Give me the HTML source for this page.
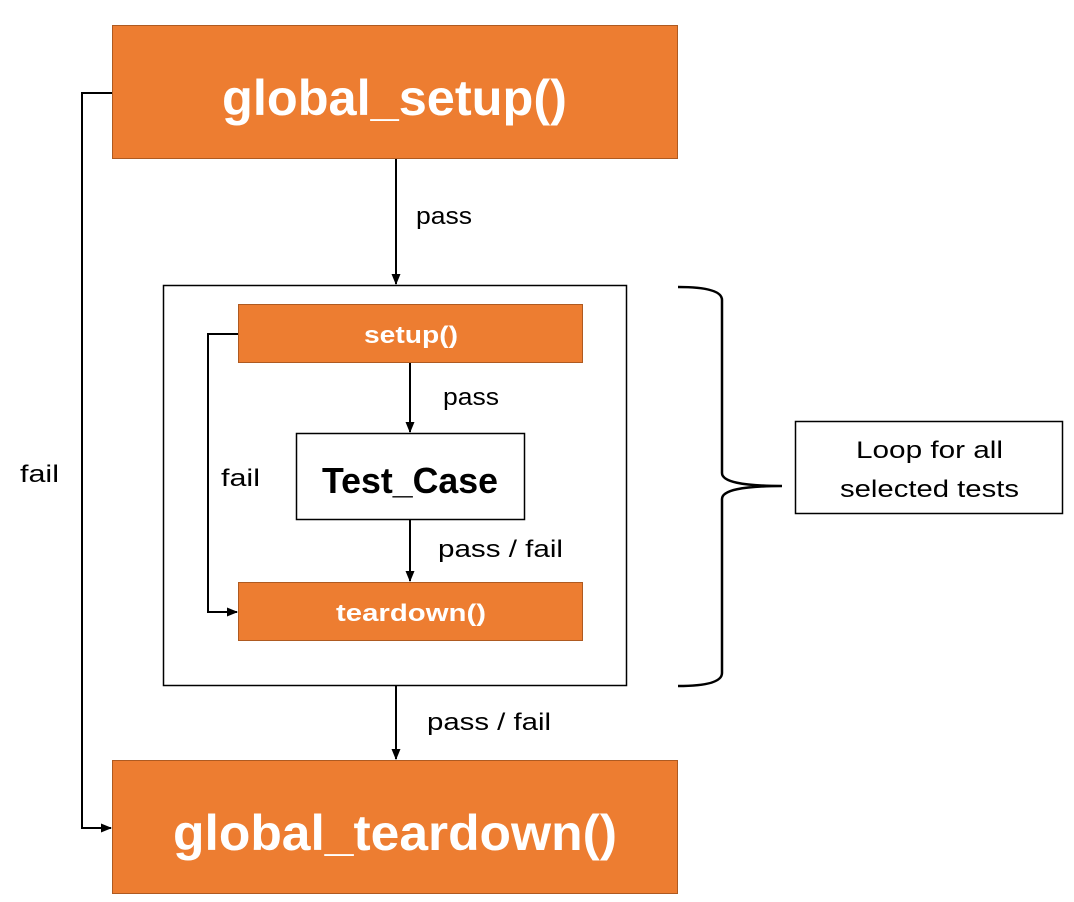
<!DOCTYPE html>
<html><head><meta charset="utf-8"><style>
html,body{margin:0;padding:0;background:#fff;}
svg{display:block;}
text{font-family:"Liberation Sans",sans-serif;}
</style></head><body>
<svg width="1074" height="902" viewBox="0 0 1074 902" xmlns="http://www.w3.org/2000/svg">
<defs><marker id="a" markerWidth="12" markerHeight="12" refX="10" refY="6" orient="auto" markerUnits="userSpaceOnUse"><path d="M0,1.5 L11,6 L0,10.5 z" fill="#000"/></marker></defs>
<rect x="112.5" y="25.5" width="565" height="133" fill="#ED7D31" stroke="#AE5A21" stroke-width="1"/>
<text x="222" y="115" font-size="50" font-weight="bold" fill="#fff" textLength="345" lengthAdjust="spacingAndGlyphs">global_setup()</text>
<line x1="396" y1="159" x2="396" y2="284" stroke="#000" stroke-width="2" marker-end="url(#a)"/>
<text x="416" y="224" font-size="24" textLength="56" lengthAdjust="spacingAndGlyphs">pass</text>
<rect x="163.5" y="285.5" width="463" height="400" fill="#fff" stroke="#000" stroke-width="1.5"/>
<rect x="238.5" y="304.5" width="344" height="58" fill="#ED7D31" stroke="#AE5A21"/>
<text x="364" y="343" font-size="24" font-weight="bold" fill="#fff" textLength="94" lengthAdjust="spacingAndGlyphs">setup()</text>
<line x1="410" y1="363" x2="410" y2="432" stroke="#000" stroke-width="2" marker-end="url(#a)"/>
<text x="443" y="405" font-size="24" textLength="56" lengthAdjust="spacingAndGlyphs">pass</text>
<rect x="296.5" y="433.5" width="228" height="86" fill="#fff" stroke="#000" stroke-width="1.5"/>
<text x="322" y="493" font-size="36" font-weight="bold" textLength="176" lengthAdjust="spacingAndGlyphs">Test_Case</text>
<line x1="410" y1="520" x2="410" y2="581" stroke="#000" stroke-width="2" marker-end="url(#a)"/>
<text x="438" y="557" font-size="24" textLength="125" lengthAdjust="spacingAndGlyphs">pass / fail</text>
<rect x="238.5" y="582.5" width="344" height="58" fill="#ED7D31" stroke="#AE5A21"/>
<text x="336" y="621" font-size="24" font-weight="bold" fill="#fff" textLength="150" lengthAdjust="spacingAndGlyphs">teardown()</text>
<polyline points="238,334 208,334 208,612 237,612" fill="none" stroke="#000" stroke-width="2" marker-end="url(#a)"/>
<text x="221" y="486" font-size="24" textLength="39" lengthAdjust="spacingAndGlyphs">fail</text>
<polyline points="112,93 82,93 82,828 111,828" fill="none" stroke="#000" stroke-width="2" marker-end="url(#a)"/>
<text x="20" y="482" font-size="24" textLength="39" lengthAdjust="spacingAndGlyphs">fail</text>
<line x1="396" y1="686" x2="396" y2="759" stroke="#000" stroke-width="2" marker-end="url(#a)"/>
<text x="427" y="730" font-size="24" textLength="124" lengthAdjust="spacingAndGlyphs">pass / fail</text>
<rect x="112.5" y="760.5" width="565" height="133" fill="#ED7D31" stroke="#AE5A21"/>
<text x="173" y="850" font-size="50" font-weight="bold" fill="#fff" textLength="444" lengthAdjust="spacingAndGlyphs">global_teardown()</text>
<path d="M678,287 Q722,287 722,300 L722,473 Q722,486 782,486 Q722,486 722,499 L722,673 Q722,686 678,686" fill="none" stroke="#000" stroke-width="2.5"/>
<rect x="795.5" y="421.5" width="267" height="92" fill="#fff" stroke="#000" stroke-width="1.5"/>
<text x="856" y="458" font-size="24" textLength="147" lengthAdjust="spacingAndGlyphs">Loop for all</text>
<text x="840" y="497" font-size="24" textLength="179" lengthAdjust="spacingAndGlyphs">selected tests</text>
</svg>
</body></html>
